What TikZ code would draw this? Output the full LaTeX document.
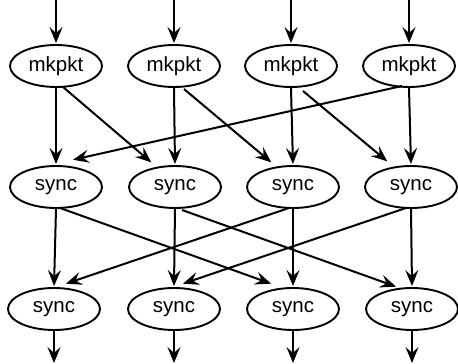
\documentclass[tikz,border=0pt]{standalone}
\usepackage{fontspec}
\setmainfont{Liberation Sans}
\usetikzlibrary{shapes.geometric,arrows.meta,calc}

\begin{document}
\begin{tikzpicture}[x=1pt,y=-1pt,
  proc/.style={ellipse,draw,line width=1.9,minimum width=92,minimum height=42,
    inner sep=0pt,font=\fontsize{20.5}{24}\selectfont},
  flow/.style={line width=2,-{Stealth[length=16,width=13,inset=6]},shorten >=1}]
\useasboundingbox (0,0) rectangle (458,364);

% packet makers
\node[proc] (m1) at (56,66) {mkpkt};
\node[proc] (m2) at (174,66) {mkpkt};
\node[proc] (m3) at (291,66) {mkpkt};
\node[proc] (m4) at (409,66) {mkpkt};

% first sync stage
\node[proc] (s1) at (56,187) {sync};
\node[proc] (s2) at (175,187) {sync};
\node[proc] (s3) at (293,187) {sync};
\node[proc] (s4) at (411,187) {sync};

% second sync stage
\node[proc] (b1) at (54,309) {sync};
\node[proc] (b2) at (174,309) {sync};
\node[proc] (b3) at (293,309) {sync};
\node[proc] (b4) at (412,309) {sync};

% free ends of the inputs and outputs
\foreach \i/\x in {1/56,2/174,3/291,4/409} \coordinate (in\i) at (\x,0);
\foreach \i/\x in {1/54,2/174,3/293,4/412} \coordinate (out\i) at (\x,363);

\foreach \i in {1,2,3,4} {
  \draw[flow] (in\i) -- (m\i.north);
  \draw[flow] (m\i.south) -- (s\i.north);
  \draw[flow] (s\i.south) -- (b\i.north);
  \draw[flow,shorten >=0] (b\i.south) -- (out\i);
}

% crossing links, first stage
\draw[flow] ($(m1)+(7,21)$)  -- ($(s2)+(-23,-24)$);
\draw[flow] ($(m2)+(10,23)$) -- ($(s3)+(-21,-24)$);
\draw[flow] ($(m3)+(12,25)$) -- ($(s4)+(-23,-25)$);
\draw[flow] ($(m4)+(-7,20)$) -- ($(s1)+(16,-27)$);

% crossing links, second stage
\draw[flow] ($(s1)+(4,21)$)  -- ($(b3)+(-21,-25)$);
\draw[flow] ($(s2)+(7,23)$)  -- ($(b4)+(-15,-22)$);
\draw[flow] ($(s3)+(-4,21)$) -- ($(b1)+(11,-25)$);
\draw[flow] ($(s4)+(-5,21)$) -- ($(b2)+(8,-25)$);
\end{tikzpicture}
\end{document}
